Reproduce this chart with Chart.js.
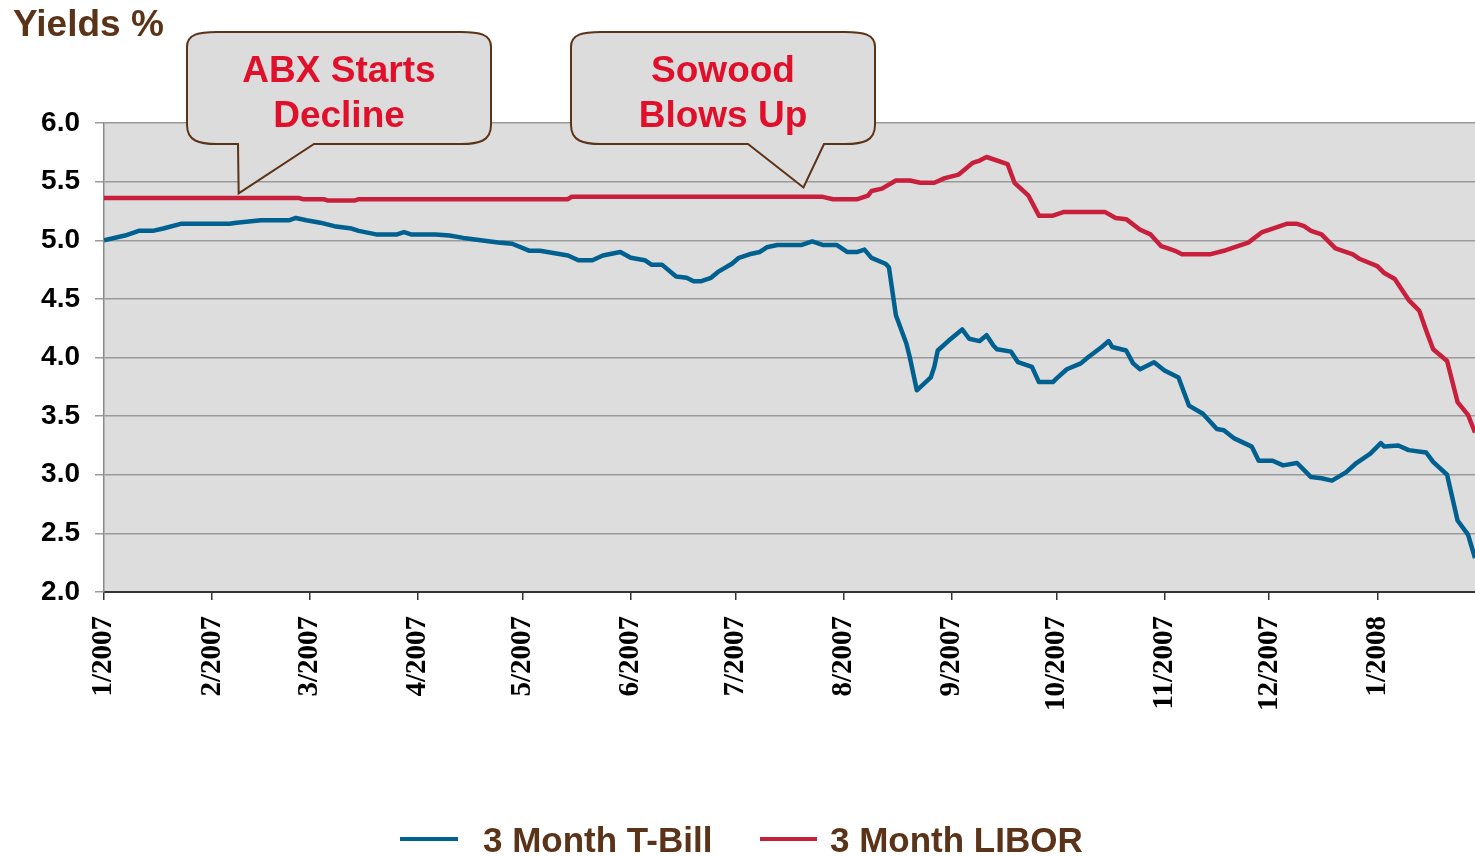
<!DOCTYPE html>
<html>
<head>
<meta charset="utf-8">
<script src="https://cdn.jsdelivr.net/npm/chart.js@4.4.1/dist/chart.umd.min.js"></script>
<style>
  html, body { margin: 0; padding: 0; background: #ffffff; }
  #c { display: block; }
</style>
</head>
<body>
<canvas id="c" width="1475" height="856"></canvas>
<script>
// ---- Data (days since 1 Jan 2007) ----
const monthStartDays = [0, 31, 59, 90, 120, 151, 181, 212, 243, 273, 304, 334, 365];
const monthLabels = ['1/2007','2/2007','3/2007','4/2007','5/2007','6/2007','7/2007','8/2007','9/2007','10/2007','11/2007','12/2007','1/2008'];
const yTickValues = [2.0, 2.5, 3.0, 3.5, 4.0, 4.5, 5.0, 5.5, 6.0];

const tbillDays = [0,6,10,14,17,22,36,38,45,53,55,58,62,66,71,73,78,84,86,88,95,99,103,108,113,117,122,125,133,136,140,143,148,151,155,157,160,164,167,169,171,174,176,180,182,185,188,190,193,200,203,206,210,213,216,218,220,224,225,227,230,231,233,237,238,239,242,244,246,248,251,253,255,256,260,262,266,268,272,273,276,280,282,286,288,289,293,295,297,301,304,308,311,315,319,321,324,329,331,335,338,342,346,349,352,356,359,363,366,367,371,374,379,381,385,388,391,393];
const tbillYields = [5.00,5.04,5.08,5.08,5.10,5.14,5.14,5.15,5.17,5.17,5.19,5.17,5.15,5.12,5.10,5.08,5.05,5.05,5.07,5.05,5.05,5.04,5.02,5.00,4.98,4.97,4.91,4.91,4.87,4.83,4.83,4.87,4.90,4.85,4.83,4.79,4.79,4.69,4.68,4.65,4.65,4.68,4.73,4.80,4.85,4.88,4.90,4.94,4.96,4.96,4.99,4.96,4.96,4.90,4.90,4.92,4.85,4.80,4.77,4.36,4.12,4.00,3.72,3.83,3.92,4.06,4.14,4.19,4.24,4.16,4.14,4.19,4.10,4.07,4.05,3.96,3.92,3.79,3.79,3.82,3.90,3.95,4.00,4.09,4.14,4.09,4.06,3.95,3.90,3.96,3.89,3.83,3.59,3.52,3.39,3.38,3.31,3.24,3.12,3.12,3.08,3.10,2.98,2.97,2.95,3.02,3.10,3.18,3.27,3.24,3.25,3.21,3.19,3.11,3.00,2.61,2.49,2.29];

const liborDays = [0,56,57,63,64,72,73,133,134,206,209,216,219,220,223,227,231,234,238,241,245,249,251,253,259,261,265,268,272,275,282,287,290,293,297,300,303,305,307,309,317,321,325,328,332,335,339,342,344,346,349,353,358,360,365,367,370,374,377,379,381,385,388,391,393];
const liborYields = [5.36,5.36,5.35,5.35,5.34,5.34,5.35,5.35,5.37,5.37,5.35,5.35,5.38,5.42,5.44,5.51,5.51,5.49,5.49,5.53,5.56,5.66,5.68,5.71,5.65,5.49,5.38,5.21,5.21,5.24,5.24,5.24,5.19,5.18,5.09,5.05,4.95,4.93,4.91,4.88,4.88,4.91,4.95,4.98,5.07,5.10,5.14,5.14,5.12,5.08,5.05,4.93,4.88,4.84,4.78,4.72,4.67,4.49,4.40,4.23,4.07,3.97,3.62,3.51,3.36];

const seriesNames = ['3 Month T-Bill', '3 Month LIBOR'];
const calloutTexts = [['ABX Starts', 'Decline'], ['Sowood', 'Blows Up']];
const calloutTipDays = [38.6, 200.5];
const calloutTipValues = [5.40, 5.45];

// ---- Helpers ----
const toPoints = (xs, ys) => xs.map((x, i) => ({ x: x, y: ys[i] }));
const BROWN = '#5b3318';
const RED_TEXT = '#e0102b';

const bgPlugin = {
  id: 'plotBg',
  beforeDraw(chart) {
    const { ctx, chartArea: a } = chart;
    ctx.save();
    ctx.fillStyle = '#dddddd';
    ctx.fillRect(a.left, a.top, a.right - a.left, a.bottom - a.top);
    ctx.restore();
  }
};

// callout box geometry (pixel layout of the decorations)
const calloutBoxes = [
  { left: 187, right: 491, top: 32, bottom: 144, baseA: 238, baseB: 314 },
  { left: 571, right: 875, top: 32, bottom: 144, baseA: 748, baseB: 824 }
];

const overlayPlugin = {
  id: 'overlay',
  afterDraw(chart) {
    const { ctx } = chart;
    const xs = chart.scales.x, ys = chart.scales.y;
    ctx.save();
    // Title
    ctx.fillStyle = BROWN;
    ctx.font = 'bold 37px "Liberation Sans", Arial, sans-serif';
    ctx.textAlign = 'left';
    ctx.textBaseline = 'alphabetic';
    ctx.fillText('Yields %', 13, 36);

    // Callouts
    calloutBoxes.forEach((b, i) => {
      const tx = xs.getPixelForValue(calloutTipDays[i]);
      const ty = ys.getPixelForValue(calloutTipValues[i]);
      const rx = 30, ryT = 15, ryB = 19;
      ctx.beginPath();
      ctx.moveTo(b.left, b.top + ryT);
      ctx.bezierCurveTo(b.left, b.top + 2, b.left + rx * 0.4, b.top, b.left + rx, b.top);
      ctx.lineTo(b.right - rx, b.top);
      ctx.bezierCurveTo(b.right - rx * 0.4, b.top, b.right, b.top + 2, b.right, b.top + ryT);
      ctx.lineTo(b.right, b.bottom - ryB);
      ctx.bezierCurveTo(b.right, b.bottom - 3, b.right - rx * 0.4, b.bottom, b.right - rx, b.bottom);
      ctx.lineTo(b.baseB, b.bottom);
      ctx.lineTo(tx, ty);
      ctx.lineTo(b.baseA, b.bottom);
      ctx.lineTo(b.left + rx, b.bottom);
      ctx.bezierCurveTo(b.left + rx * 0.4, b.bottom, b.left, b.bottom - 3, b.left, b.bottom - ryB);
      ctx.closePath();
      ctx.fillStyle = '#dcdcdc';
      ctx.fill();
      ctx.lineWidth = 2;
      ctx.strokeStyle = BROWN;
      ctx.stroke();

      ctx.fillStyle = RED_TEXT;
      ctx.font = 'bold 37px "Liberation Sans", Arial, sans-serif';
      ctx.textAlign = 'center';
      const cx = (b.left + b.right) / 2;
      ctx.fillText(calloutTexts[i][0], cx, 82);
      ctx.fillText(calloutTexts[i][1], cx, 127);
    });

    // Legend
    const legendItems = [
      { lineFrom: 400, lineTo: 458, textX: 483 },
      { lineFrom: 760, lineTo: 817, textX: 830 }
    ];
    chart.data.datasets.forEach((ds, i) => {
      const it = legendItems[i];
      ctx.beginPath();
      ctx.moveTo(it.lineFrom, 839);
      ctx.lineTo(it.lineTo, 839);
      ctx.lineWidth = 4;
      ctx.strokeStyle = ds.borderColor;
      ctx.stroke();
      ctx.fillStyle = BROWN;
      ctx.font = 'bold 35px "Liberation Sans", Arial, sans-serif';
      ctx.textAlign = 'left';
      ctx.fillText(ds.label, it.textX, 852);
    });
    ctx.restore();
  }
};

new Chart(document.getElementById('c'), {
  type: 'line',
  data: {
    datasets: [
      {
        label: seriesNames[0],
        data: toPoints(tbillDays, tbillYields),
        borderColor: '#00608f',
        borderWidth: 4.5,
        pointRadius: 0,
        tension: 0,
        borderJoinStyle: 'round'
      },
      {
        label: seriesNames[1],
        data: toPoints(liborDays, liborYields),
        borderColor: '#c8203c',
        borderWidth: 4.5,
        pointRadius: 0,
        tension: 0,
        borderJoinStyle: 'round'
      }
    ]
  },
  options: {
    responsive: false,
    devicePixelRatio: 1,
    animation: false,
    layout: { padding: { left: 0, right: 0, top: 123, bottom: 0 } },
    plugins: {
      legend: { display: false },
      tooltip: { enabled: false },
      title: { display: false }
    },
    scales: {
      x: {
        type: 'linear',
        min: 0,
        max: 393,
        afterBuildTicks: (s) => { s.ticks = monthStartDays.map(v => ({ value: v })); },
        afterFit: (s) => { s.height = 264; },
        ticks: {
          autoSkip: false,
          minRotation: 90,
          maxRotation: 90,
          padding: 16,
          color: '#000000',
          font: { family: '"Liberation Serif", "Times New Roman", serif', weight: 'bold', size: 29 },
          callback: (v, i) => monthLabels[i]
        },
        grid: { drawOnChartArea: false, drawTicks: true, tickLength: 8, color: '#333333', lineWidth: 1.5 },
        border: { color: '#333333', width: 2 }
      },
      y: {
        min: 2,
        max: 6,
        afterBuildTicks: (s) => { s.ticks = yTickValues.map(v => ({ value: v })); },
        afterFit: (s) => { s.width = 104; },
        ticks: {
          padding: 15,
          color: '#000000',
          font: { family: '"Liberation Sans", Arial, sans-serif', weight: 'bold', size: 28 },
          callback: (v) => Number(v).toFixed(1)
        },
        grid: { color: '#9a9a9a', lineWidth: 1.5, tickLength: 9, drawTicks: true },
        border: { color: '#8a8a8a', width: 1.5 }
      }
    }
  },
  plugins: [bgPlugin, overlayPlugin]
});
</script>
</body>
</html>
